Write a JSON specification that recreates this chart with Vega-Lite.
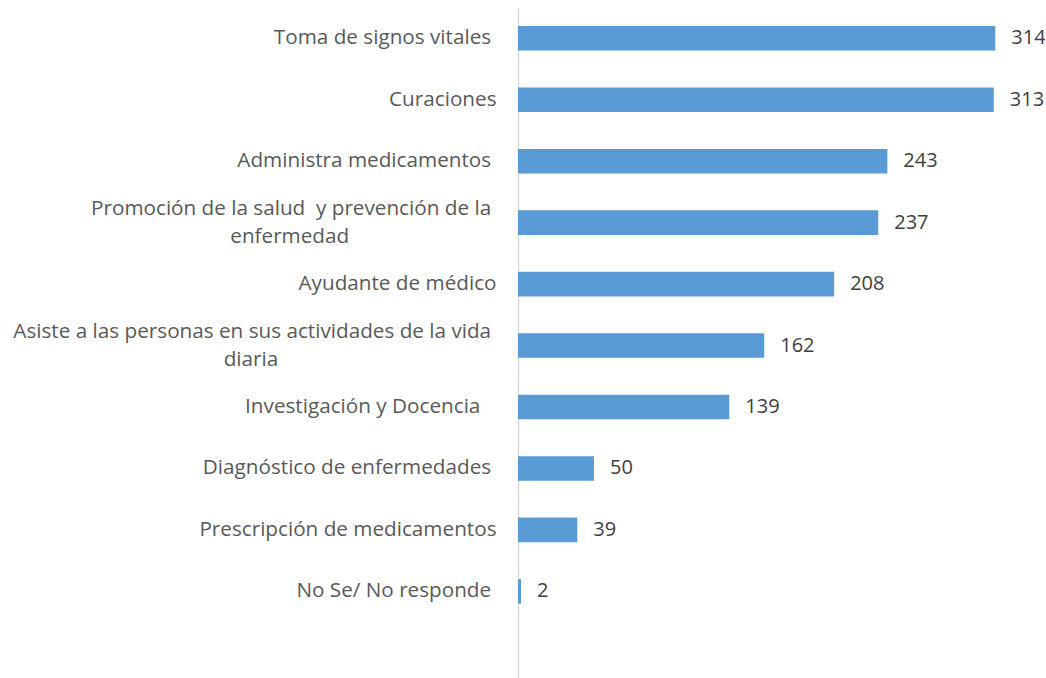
{
  "$schema": "https://vega.github.io/schema/vega-lite/v6.json",
  "autosize": {"type": "none"},
  "width": 527,
  "height": 670,
  "padding": {"left": 518, "top": 8, "right": 0, "bottom": 0},
  "background": "white",
  "config": {"view": {"stroke": null}, "font": "Open Sans"},
  "data": {
    "values": [
      {"actividad": "Toma de signos vitales ", "n": 314},
      {"actividad": "Curaciones", "n": 313},
      {"actividad": "Administra medicamentos ", "n": 243},
      {"actividad": "Promoción de la salud  y prevención de la |enfermedad", "n": 237},
      {"actividad": "Ayudante de médico", "n": 208},
      {"actividad": "Asiste a las personas en sus actividades de la vida |diaria", "n": 162},
      {"actividad": "Investigación y Docencia   ", "n": 139},
      {"actividad": "Diagnóstico de enfermedades ", "n": 50},
      {"actividad": "Prescripción de medicamentos", "n": 39},
      {"actividad": "No Se/ No responde ", "n": 2}
    ]
  },
  "encoding": {
    "y": {
      "field": "actividad",
      "type": "nominal",
      "sort": {"field": "n", "order": "descending"},
      "title": null,
      "scale": {"paddingInner": 0.6, "paddingOuter": 0.752, "align": 0.195},
      "axis": {
        "domainColor": "#d9d9d9",
        "domainWidth": 1.5,
        "ticks": false,
        "tickSize": 0,
        "labelPadding": 22,
        "labelFontSize": 20.7,
        "labelColor": "#595959",
        "labelFont": "Open Sans",
        "labelLimit": 600,
        "labelLineHeight": 28.5,
        "labelOffset": {"condition": {"test": "indexof(datum.label, '|') >= 0", "value": -14}, "value": 0},
        "labelExpr": "indexof(datum.label, '|') < 0 ? replace(datum.label, regexp(' ', 'g'), '\u00a0') + '\u200b' : [replace(split(datum.label, '|')[0], regexp(' ', 'g'), '\u00a0') + '\u200b', split(datum.label, '|')[1] + pad('', round((length(split(datum.label, '|')[0]) - length(split(datum.label, '|')[1])) * 0.39), '\u2007') + '\u00a0\u200b']"
      }
    },
    "x": {
      "field": "n",
      "type": "quantitative",
      "scale": {"domain": [0, 346.7], "nice": false},
      "axis": null
    }
  },
  "layer": [
    {"mark": {"type": "bar", "color": "#5b9bd5"}},
    {
      "mark": {"type": "text", "align": "left", "baseline": "middle", "dx": 16, "fontSize": 20, "color": "#404040", "font": "Open Sans"},
      "encoding": {"text": {"field": "n", "type": "quantitative"}}
    }
  ]
}
